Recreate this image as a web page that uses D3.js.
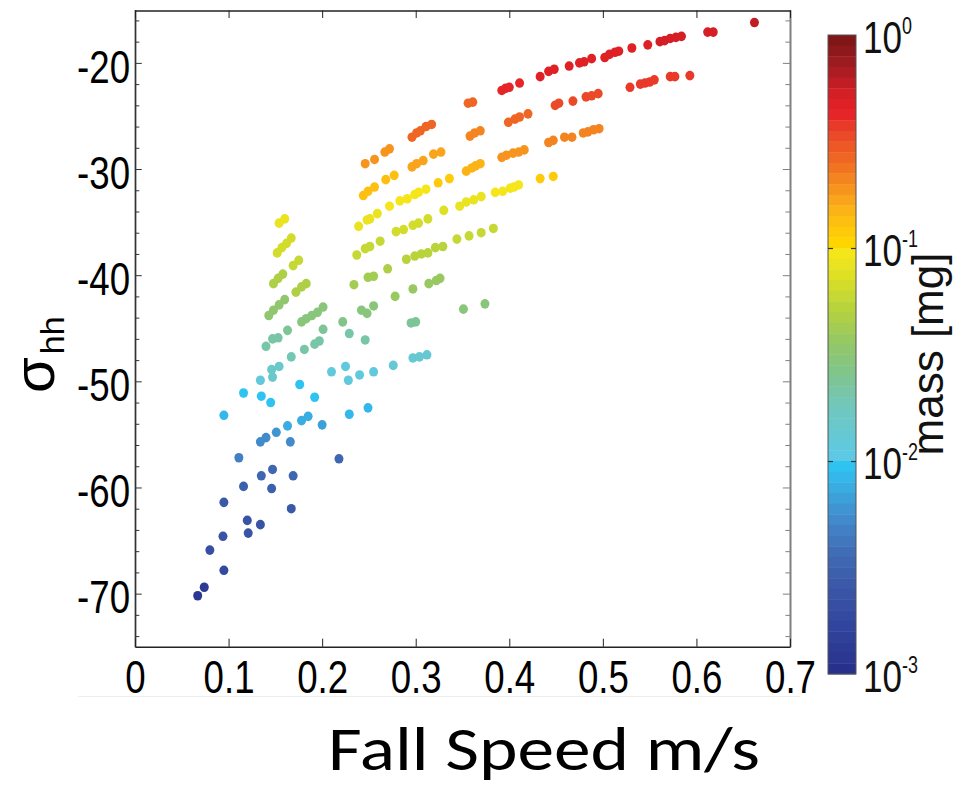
<!DOCTYPE html>
<html><head><meta charset="utf-8">
<script src="https://cdn.jsdelivr.net/npm/d3@7"></script>
<style>html,body{margin:0;padding:0;background:#fff;} svg{display:block}</style>
</head><body>
<svg id="chart" width="956" height="787"></svg>
<script>
// ---------- data (fall speed m/s, sigma_hh dB, mass mg) ----------
const speed = [
 0.356,0.361,0.392,0.396,0.400,0.411,0.433,0.442,0.448,0.464,0.475,0.480,0.488,0.502,0.507,0.513,0.517,0.531,0.548,0.561,0.566,0.572,0.578,0.584,0.612,0.618,0.662,
 0.296,0.301,0.305,0.311,0.317,0.399,0.406,0.411,0.420,0.449,0.453,0.468,0.482,0.488,0.495,0.529,0.540,0.545,0.550,0.555,0.572,0.577,0.593,
 0.246,0.256,0.267,0.272,0.358,0.363,0.369,0.392,0.397,0.404,0.410,0.416,0.442,0.447,0.459,0.467,0.479,0.484,0.490,0.496,
 0.296,0.301,0.308,0.319,0.327,0.244,0.249,0.256,0.268,0.277,0.354,0.360,0.364,0.369,0.324,0.336,0.433,0.447,
 0.239,0.248,0.251,0.259,0.272,0.283,0.291,0.299,0.303,0.311,0.347,0.354,0.362,0.370,0.385,0.393,0.401,0.405,0.410,
 0.237,0.246,0.251,0.262,0.279,0.287,0.297,0.303,0.313,0.330,0.344,0.357,0.370,0.383,0.290,0.299,0.306,0.313,0.321,0.329,
 0.234,0.249,0.255,0.270,0.278,0.297,0.314,0.322,0.326,0.351,0.374,0.222,0.242,0.248,0.255,0.295,0.300,0.229,0.246,
 0.210,0.225,0.228,0.240,0.255,0.276,0.297,0.304,0.312,0.200,0.229,0.249,0.218,
 0.154,0.160,0.167,0.162,0.157,0.152,0.175,0.169,0.158,0.153,0.148,0.183,0.178,0.172,0.160,0.154,0.148,0.143,
 0.178,0.183,0.189,0.195,0.201,0.163,0.153,0.147,0.140,0.201,0.197,0.192,0.181,0.167,0.154,0.146,0.147,0.134,
 0.176,0.192,0.116,0.135,0.145,0.095,0.178,0.185,0.163,0.151,0.140,0.134,0.166,0.111,0.147,0.135,0.169,0.116,
 0.146,0.095,0.167,0.120,0.134,0.121,0.094,0.080,0.095,0.074,0.067
];
const sigma = [
 -23.8,-23.7,-22.6,-22.4,-22.3,-21.9,-21.3,-20.8,-20.6,-20.3,-20.0,-19.9,-19.6,-19.5,-19.2,-19.0,-18.9,-18.6,-18.3,-18.0,-17.9,-17.7,-17.6,-17.5,-17.1,-17.1,-16.2,
 -27.0,-26.6,-26.4,-26.0,-25.8,-25.6,-25.3,-25.1,-24.8,-24.0,-23.8,-23.6,-23.2,-23.1,-22.9,-22.3,-22.0,-21.9,-21.8,-21.6,-21.3,-21.3,-21.2,
 -29.5,-29.1,-28.4,-28.1,-26.9,-26.6,-26.4,-28.9,-28.7,-28.5,-28.4,-28.2,-27.5,-27.3,-27.0,-27.0,-26.6,-26.5,-26.3,-26.2,
 -29.8,-29.5,-29.2,-28.6,-28.4,-32.5,-32.1,-31.7,-31.0,-30.6,-30.2,-29.9,-29.7,-29.5,-31.3,-30.9,-30.9,-30.7,
 -35.4,-34.8,-34.7,-34.2,-33.5,-33.0,-32.8,-32.4,-32.2,-31.9,-33.5,-33.1,-32.9,-32.6,-32.2,-32.1,-31.8,-31.7,-31.5,
 -38.1,-37.5,-37.3,-36.8,-35.9,-35.7,-35.3,-35.1,-34.7,-33.9,-36.6,-36.3,-36.0,-35.6,-38.5,-38.2,-38.0,-37.9,-37.4,-37.3,
 -40.9,-40.2,-40.1,-39.4,-42.0,-41.3,-40.8,-40.5,-40.3,-43.2,-42.7,-44.4,-43.3,-43.6,-42.9,-44.5,-44.4,-45.5,-46.1,
 -49.1,-48.6,-49.9,-49.4,-49.1,-48.5,-47.8,-47.7,-47.5,-54.1,-53.1,-52.5,-57.3,
 -35.1,-34.7,-36.5,-37.0,-37.4,-37.9,-38.6,-39.1,-39.9,-40.3,-40.8,-40.8,-41.1,-41.6,-42.3,-42.8,-43.3,-43.8,
 -44.4,-44.1,-43.8,-43.5,-43.0,-45.2,-45.9,-46.0,-46.7,-45.1,-46.2,-46.5,-47.0,-47.7,-48.6,-48.9,-49.6,-49.9,
 -50.3,-51.5,-51.1,-51.4,-52.0,-53.2,-53.7,-53.3,-54.2,-54.8,-55.3,-55.7,-55.7,-57.2,-58.3,-58.9,-58.9,-59.9,
 -60.1,-61.4,-62.0,-63.1,-63.5,-64.3,-64.6,-65.9,-67.8,-69.4,-70.2
];
const mass = [
 0.28,0.28,0.42,0.42,0.42,0.42,0.45,0.45,0.45,0.47,0.47,0.47,0.47,0.48,0.48,0.48,0.48,0.5,0.5,0.52,0.52,0.52,0.52,0.52,0.55,0.55,0.6,
 0.26,0.26,0.26,0.26,0.26,0.28,0.28,0.28,0.28,0.32,0.32,0.32,0.32,0.32,0.32,0.38,0.38,0.38,0.38,0.38,0.38,0.38,0.38,
 0.19,0.19,0.19,0.19,0.21,0.21,0.21,0.19,0.19,0.19,0.19,0.19,0.21,0.21,0.21,0.21,0.21,0.21,0.21,0.21,
 0.166,0.166,0.166,0.166,0.166,0.138,0.138,0.138,0.138,0.138,0.15,0.15,0.15,0.15,0.117,0.117,0.117,0.117,
 0.085,0.085,0.085,0.085,0.09,0.09,0.09,0.09,0.09,0.09,0.088,0.088,0.088,0.088,0.095,0.095,0.095,0.095,0.095,
 0.063,0.063,0.063,0.063,0.07,0.07,0.07,0.07,0.07,0.075,0.063,0.063,0.063,0.063,0.056,0.056,0.056,0.056,0.056,0.056,
 0.043,0.043,0.043,0.045,0.036,0.036,0.036,0.036,0.036,0.03,0.03,0.028,0.029,0.029,0.029,0.025,0.025,0.021,0.02,
 0.0125,0.0125,0.0125,0.0125,0.0125,0.014,0.014,0.014,0.014,0.007,0.0089,0.0089,0.0035,
 0.085,0.085,0.066,0.066,0.066,0.066,0.058,0.058,0.05,0.05,0.05,0.045,0.045,0.045,0.035,0.035,0.035,0.035,
 0.03,0.03,0.03,0.03,0.03,0.025,0.022,0.022,0.021,0.024,0.021,0.021,0.02,0.019,0.015,0.015,0.015,0.012,
 0.0093,0.009,0.0095,0.0093,0.009,0.0085,0.0074,0.0074,0.0072,0.0063,0.0056,0.0056,0.0056,0.005,0.0032,0.0032,0.0032,0.003,
 0.003,0.0026,0.0026,0.0024,0.0024,0.0024,0.0023,0.0021,0.0018,0.0013,0.00118
];
const xTicks = [0, 0.1, 0.2, 0.3, 0.4, 0.5, 0.6, 0.7];
const xTickLabels = ["0", "0.1", "0.2", "0.3", "0.4", "0.5", "0.6", "0.7"];
const yTicks = [-70, -60, -50, -40, -30, -20];
const yTickLabels = ["-70", "-60", "-50", "-40", "-30", "-20"];
const yMinorTicks = [-74, -72, -68, -66, -64, -62, -58, -56, -54, -52, -48, -46, -44, -42, -38, -36, -34, -32, -28, -26, -24, -22, -18, -16];
const cbTicks = [0.001, 0.01, 0.1, 1];
const cbTickExp = ["-3", "-2", "-1", "0"];
const xTitle = "Fall Speed m/s";
const cbTitle = "mass [mg]";

// colormap (in -log10(mass) units)
const cmapL = [0,0.1,0.2,0.3,0.38,0.45,0.55,0.65,0.75,0.85,0.95,0.975,1.025,1.15,1.3,1.45,1.6,1.75,1.975,2.025,2.15,2.3,2.45,2.6,2.75,2.9,3.0];
const cmapC = ["#7a1416","#931a1e","#b61d23","#dc1f26","#e62527","#ea4429","#ee5e24","#f37c20","#f89c1c","#fcba14","#fecf06","#ffd500","#f5e61b","#d9de26","#b3d13f","#93c767","#7fc590","#70c7bd","#5dc9e5","#2fc3f2","#3ba6dd","#4284c7","#3f69b3","#3a56a6","#3347a0","#2c3993","#262f88"];
const cmap = d3.scaleLinear().domain(cmapL).range(cmapC).interpolate(d3.interpolateRgb).clamp(true);
const nBands = 60;
function bandOf(m){ const L = -Math.log10(m); let k = Math.floor(L/3*nBands + 1e-9); return Math.max(0, Math.min(nBands-1, k)); }
function colorOf(m){ return cmap((bandOf(m)+0.5)*3/nBands); }

// ---------- layout ----------
const svg = d3.select("#chart");
const L = 135, R = 790, T = 10.5, B = 646.7;
const x = d3.scaleLinear().domain([0, 0.7]).range([L, R]);
const y = d3.scaleLinear().domain([-75, -15]).range([B, 9.8]);
const tickFont = "'Liberation Sans', Arial, sans-serif";
const sx = 0.78;

// faint scan line artifact
svg.append("line").attr("x1", 78).attr("x2", 800).attr("y1", 696.5).attr("y2", 696.5)
  .attr("stroke", "#eeeeee").attr("stroke-width", 1);

// points
svg.append("g").selectAll("ellipse").data(d3.range(speed.length)).join("ellipse")
  .attr("cx", i => x(speed[i])).attr("cy", i => y(sigma[i]))
  .attr("rx", 4.5).attr("ry", 4.8)
  .attr("fill", i => colorOf(mass[i]));

function styleAxis(g, color, width){
  g.select(".domain").attr("stroke", color).attr("stroke-width", width);
  g.selectAll(".tick line").attr("stroke", color).attr("stroke-width", 1);
}

// left axis: minor + major
const gLm = svg.append("g").attr("transform", `translate(${L},0)`)
  .call(d3.axisLeft(y).tickValues(yMinorTicks).tickSize(-4.3).tickSizeOuter(0).tickFormat(""));
styleAxis(gLm, "#333", 1.4);
const gL = svg.append("g").attr("transform", `translate(${L},0)`)
  .call(d3.axisLeft(y).tickValues(yTicks).tickSize(-6.8).tickSizeOuter(0).tickFormat((d,i) => yTickLabels[i]));
styleAxis(gL, "#333", 1.4);
gL.selectAll("text").attr("font-family", tickFont).attr("font-size", 47).attr("fill", "#000")
  .attr("text-anchor", "end").attr("x", -5/sx).attr("dy", "0.41em").attr("transform", `scale(${sx},1)`);

// right axis
const gRm = svg.append("g").attr("transform", `translate(${R},0)`)
  .call(d3.axisRight(y).tickValues(yMinorTicks).tickSize(-4.6).tickSizeOuter(0).tickFormat(""));
styleAxis(gRm, "#808080", 1.6);
const gR = svg.append("g").attr("transform", `translate(${R},0)`)
  .call(d3.axisRight(y).tickValues(yTicks).tickSize(-7.2).tickSizeOuter(0).tickFormat(""));
styleAxis(gR, "#808080", 1.6);

// top axis
const gT = svg.append("g").attr("transform", `translate(0,${T})`)
  .call(d3.axisTop(x).tickValues(xTicks).tickSize(-7.5).tickSizeOuter(0).tickFormat(""));
styleAxis(gT, "#222", 1.3);

// bottom axis
const gB = svg.append("g").attr("transform", `translate(0,${B})`)
  .call(d3.axisBottom(x).tickValues(xTicks).tickSize(-8).tickSizeOuter(0).tickFormat((d,i) => xTickLabels[i]));
styleAxis(gB, "#222", 1.4);
gB.selectAll("text").attr("font-family", tickFont).attr("font-size", 47).attr("fill", "#000")
  .attr("text-anchor", "middle").attr("y", 46).attr("dy", 0).attr("transform", `scale(${sx},1)`)
  .attr("x", 0);

// y label sigma_hh
const yl = svg.append("text").attr("transform", "translate(54,393) rotate(-90)")
  .attr("font-family", tickFont).attr("fill", "#000");
yl.append("tspan").attr("font-size", 58).text("σ");
yl.append("tspan").attr("font-size", 34).attr("dy", 10).attr("dx", 3).text("hh");

// x title
svg.append("text").attr("x", 328).attr("y", 770)
  .attr("font-family", "Carlito, Lato, 'Open Sans', sans-serif").attr("font-size", 62)
  .attr("textLength", 432).attr("lengthAdjust", "spacingAndGlyphs")
  .attr("fill", "#000").text(xTitle);

// ---------- colorbar ----------
const cbX = 828, cbW = 28;
const cb = d3.scaleLog().domain([0.001, 1]).range([674, 35]);
const bands = d3.range(nBands);
svg.append("g").selectAll("rect").data(bands).join("rect")
  .attr("x", cbX).attr("width", cbW)
  .attr("y", k => cb(Math.pow(10, -k*3/nBands)))
  .attr("height", k => cb(Math.pow(10, -(k+1)*3/nBands)) - cb(Math.pow(10, -k*3/nBands)) + 0.4)
  .attr("fill", k => cmap((k+0.5)*3/nBands));
svg.append("rect").attr("x", cbX).attr("y", cb(1)).attr("width", cbW).attr("height", cb(0.001)-cb(1))
  .attr("fill", "none").attr("stroke", "#555").attr("stroke-width", 1);

const gCl = svg.append("g").attr("transform", `translate(${cbX},0)`)
  .call(d3.axisLeft(cb).tickValues([0.01, 0.1]).tickSize(-5).tickSizeOuter(0).tickFormat(""));
gCl.select(".domain").remove();
gCl.selectAll(".tick line").attr("stroke", "#333").attr("stroke-width", 1.2);
const gC = svg.append("g").attr("transform", `translate(${cbX+cbW},0)`)
  .call(d3.axisRight(cb).tickValues(cbTicks).tickSize(0).tickSizeOuter(0).tickFormat(""));
gC.select(".domain").remove();
gC.selectAll(".tick line").remove();
gC.selectAll(".tick").each(function(d, i){
  const g = d3.select(this);
  if (d > 0.001 && d < 1) {
    g.append("line").attr("x1", -5).attr("x2", 0).attr("stroke", "#333").attr("stroke-width", 1.2);
  }
  const t = g.append("text").attr("transform", `scale(${sx},1)`).attr("x", 7/sx).attr("y", 17)
    .attr("font-family", tickFont).attr("fill", "#111").attr("text-anchor", "start");
  t.append("tspan").attr("font-size", 45).text("10");
  t.append("tspan").attr("font-size", 23).attr("dy", -19).text(cbTickExp[i]);
});

// colorbar title
svg.append("text").attr("transform", "translate(943,354) rotate(-90)")
  .attr("text-anchor", "middle").attr("font-family", tickFont).attr("font-size", 44)
  .attr("fill", "#111").text(cbTitle);
</script>
</body></html>
